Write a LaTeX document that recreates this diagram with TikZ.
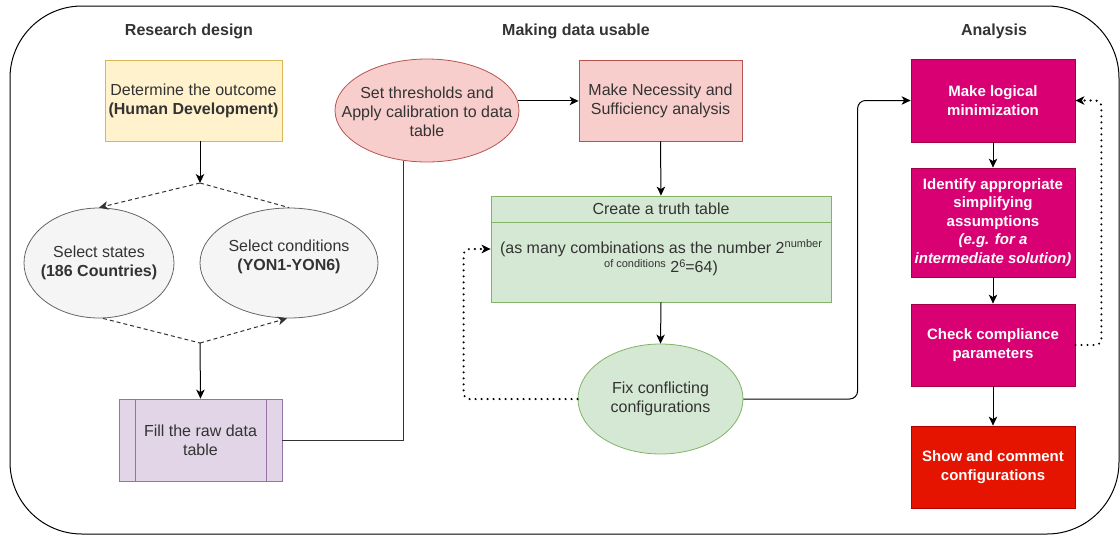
\documentclass[tikz,border=0pt]{standalone}
\usepackage{fontspec}
\setmainfont{Liberation Sans}
\usetikzlibrary{arrows.meta,shapes.geometric}
\definecolor{txt}{HTML}{333333}
\definecolor{yelfill}{HTML}{FFF2CC}\definecolor{yelline}{HTML}{D6B656}
\definecolor{grayfill}{HTML}{F5F5F5}\definecolor{grayline}{HTML}{666666}
\definecolor{purfill}{HTML}{E1D5E7}\definecolor{purline}{HTML}{9673A6}
\definecolor{redfill}{HTML}{F8CECC}\definecolor{redline}{HTML}{B85450}
\definecolor{grnfill}{HTML}{D5E8D4}\definecolor{grnline}{HTML}{82B366}
\definecolor{magfill}{HTML}{D80073}\definecolor{magline}{HTML}{A50040}
\definecolor{showfill}{HTML}{E51400}\definecolor{showline}{HTML}{B20000}
\newcommand{\upsmall}[1]{\raisebox{5.5pt}{\fontsize{11}{11}\selectfont #1}}

\begin{document}
\begin{tikzpicture}[x=1pt,y=-1pt,
    every node/.append style={font=\fontsize{16}{19.2}\selectfont, text=txt, align=center},
    box/.style={draw, line width=0.8pt, minimum width=164pt, minimum height=82pt},
    oval/.style={ellipse, draw, line width=0.8pt},
    hot/.style={box, fill=magfill, draw=magline, text=white, font=\fontsize{15}{18.5}\selectfont\bfseries},
    heading/.style={font=\fontsize{16}{19.2}\selectfont\bfseries},
    headtip/.style={-{Stealth[length=9pt,width=8.5pt,inset=2.5pt]}},
    link/.style={line width=1pt, headtip},
    plain/.style={line width=1pt, draw=black!80},
    split/.style={line width=1pt, draw=black!80, dash pattern=on 4pt off 3pt},
    dotline/.style={line width=2.3pt, line cap=round, dash pattern=on 0pt off 6pt, rounded corners=6pt}]
    \tikzstyle{every node}+=[inner sep=0pt]
    \useasboundingbox (0,0) rectangle (1120,536);
    \draw[line width=1pt, rounded corners=72pt] (10,6) rectangle (1119,534);

    % column titles
    \node[heading] (hdesign) at (189,31) {Research design};
    \node[heading] (hdata) at (576,31) {Making data usable};
    \node[heading] (hanalysis) at (994,31) {Analysis};

    % research design
    \node[box, fill=yelfill, draw=yelline, minimum width=177pt, minimum height=81pt] (outcome) at (193.5,100.5) {Determine the outcome\\\textbf{(Human Development)}};
    \coordinate (fork) at (200,183);
    \node[oval, fill=grayfill, draw=grayline, minimum width=150pt, minimum height=110pt,
        label={center:Select states\\\textbf{(186 Countries)}}] (states) at (99,263) {};
    \node[oval, fill=grayfill, draw=grayline, minimum width=178pt, minimum height=110pt,
        label={[yshift=6pt]center:Select conditions\\\textbf{(YON1-YON6)}}] (conds) at (289,263) {};
    \coordinate (join) at (200,343);
    \node[box, fill=purfill, draw=purline, minimum width=163pt] (raw) at (200.5,440) {Fill the raw data\\table};
    \draw[purline, line width=0.8pt] ([xshift=16.5pt]raw.north west) -- ([xshift=16.5pt]raw.south west)
        ([xshift=-16.5pt]raw.north east) -- ([xshift=-16.5pt]raw.south east);

    % making data usable
    \node[oval, fill=redfill, draw=redline, minimum width=184pt, minimum height=103pt,
        label={[yshift=-1pt]center:Set thresholds and\\Apply calibration to data\\table}] (calib) at (427,110.5) {};
    \node[box, fill=redfill, draw=redline, minimum width=163pt, minimum height=81pt] (nec) at (660.5,100.5) {Make Necessity and\\Sufficiency analysis};
    \node[draw=grnline, fill=grnfill, line width=0.8pt, minimum width=340pt, minimum height=106pt] (tt) at (661,249) {};
    \draw[grnline, line width=0.8pt] ([yshift=-27pt]tt.north west) -- ([yshift=-27pt]tt.north east);
    \node (tthead) at ([yshift=-13.5pt]tt.north) {Create a truth table};
    \node (ttbody) at (661,258) {(as many combinations as the number 2\upsmall{number}\\\upsmall{of conditions} 2\upsmall{6}=64)};
    \node[oval, fill=grnfill, draw=grnline, minimum width=165pt, minimum height=110pt,
        label={center:Fix conflicting\\configurations}] (fix) at (660.5,399) {};

    % analysis
    \node[hot, minimum height=83pt] (logic) at (993,100.5) {Make logical\\minimization};
    \node[hot, minimum height=109pt] (assume) at (993,222.5) {Identify appropriate\\simplifying\\assumptions\\\textit{(e.g. for a}\\\textit{intermediate solution)}};
    \node[hot] (check) at (993,345) {Check compliance\\parameters};
    \node[hot, fill=showfill, draw=showline] (show) at (993,467) {Show and comment\\configurations};

    % connectors
    \draw[link] (outcome.south -| fork) -- (fork);
    \draw[split, headtip] (fork) -- (states.north);
    \draw[split] (fork) -- (conds.north);
    \draw[split] ([xshift=4pt]states.south) -- (join);
    \draw[split, headtip] (join) -- ([xshift=-2pt]conds.south);
    \draw[link] (join) -- (raw.north);
    \draw[plain] (raw.east) -| (calib.245);
    \draw[link] (calib.6) -- (calib.6 -| nec.west);
    \draw[link] (nec.south) -- (tt.north);
    \draw[link] (tt.south) -- (fix.north);
    \draw[dotline, headtip] (fix.west) -| ([xshift=-27pt]tt.west) -- (tt.west);
    \draw[link, rounded corners=8pt] (fix.east) -| ([xshift=-53pt]logic.west) -- (logic.west);
    \draw[link] (logic.south) -- (assume.north);
    \draw[link] (assume.south) -- (check.north);
    \draw[link] (check.south) -- (show.north);
    \draw[dotline, headtip] (check.east) -| ([xshift=26pt]logic.east) -- (logic.east);
\end{tikzpicture}
\end{document}
